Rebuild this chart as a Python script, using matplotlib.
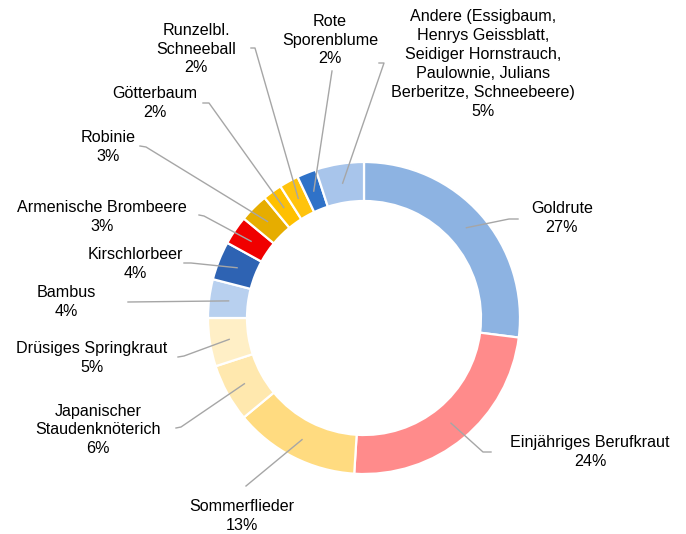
import matplotlib
matplotlib.use("Agg")
import matplotlib.pyplot as plt
import numpy as np

# data: share of invasive species (percent), clockwise from 12 o'clock
names = ["Goldrute", "Einjähriges Berufkraut", "Sommerflieder",
         "Japanischer\nStaudenknöterich", "Drüsiges Springkraut", "Bambus",
         "Kirschlorbeer", "Armenische Brombeere", "Robinie", "Götterbaum",
         "Runzelbl.\nSchneeball", "Rote\nSporenblume",
         "Andere (Essigbaum,\nHenrys Geissblatt,\nSeidiger Hornstrauch,\n"
         "Paulownie, Julians\nBerberitze, Schneebeere)"]
shares = [27, 24, 13, 6, 5, 4, 4, 3, 3, 2, 2, 2, 5]
colors = ["#8DB3E2", "#FF8B8B", "#FFDB80", "#FFE8AE", "#FFEFC6", "#B8D0EF",
          "#2E63B3", "#F00000", "#E6AD00", "#FFC000", "#FFC30D", "#2F72C8",
          "#A8C5EB"]

# label layout in pixel coords (y down): text centre, leader elbow, stub end
label_xy = [(562, 218), (590, 452), (242, 516), (98, 430), (92, 358),
            (66, 302), (135, 264), (102, 217), (108, 147), (155, 103),
            (196, 49), (330, 40), (483, 64)]
elbows = [(509, 219), (483, 452), (246, 486), (181, 427), (184, 356),
          (128, 302), (191, 263), (204, 216), (146, 147), (209, 103),
          (255, 48), (332, 71), (384, 63)]
stubs = [(518, 219), (491, 452), None, (176, 428), (178, 357),
         None, (184, 263), (199, 215), (140, 146), (203, 103),
         (251, 48), None, (379, 63)]

W, H = 686, 534
CX, CY, R, RING = 364, 318, 156, 39


def px(x, y):
    return x, H - y


plt.rcParams["font.family"] = ["Liberation Sans", "DejaVu Sans"]
fig = plt.figure(figsize=(W / 100, H / 100), dpi=100)
ax = fig.add_axes([0, 0, 1, 1])

wedges, _ = ax.pie(shares, colors=colors, startangle=90, counterclock=False,
                   center=px(CX, CY), radius=R, frame=True,
                   wedgeprops=dict(width=RING, edgecolor="white", linewidth=1.6))
ax.set_xlim(0, W)
ax.set_ylim(0, H)
ax.set_aspect("equal")
ax.axis("off")

r_mid = R - RING / 2
for w, name, share, (tx, ty), el, st in zip(wedges, names, shares,
                                            label_xy, elbows, stubs):
    ang = np.deg2rad((w.theta1 + w.theta2) / 2)
    cx, cy = px(CX, CY)
    pts = [(cx + r_mid * np.cos(ang), cy + r_mid * np.sin(ang)), px(*el)]
    if st is not None:
        pts.append(px(*st))
    xs, ys = zip(*pts)
    ax.plot(xs, ys, color="#A6A6A6", lw=1.0, zorder=3)
    ax.text(*px(tx, ty), f"{name}\n{share}%", ha="center", va="center",
            fontsize=11.6, color="black", linespacing=1.32)

fig.savefig("out.png", dpi=100)
